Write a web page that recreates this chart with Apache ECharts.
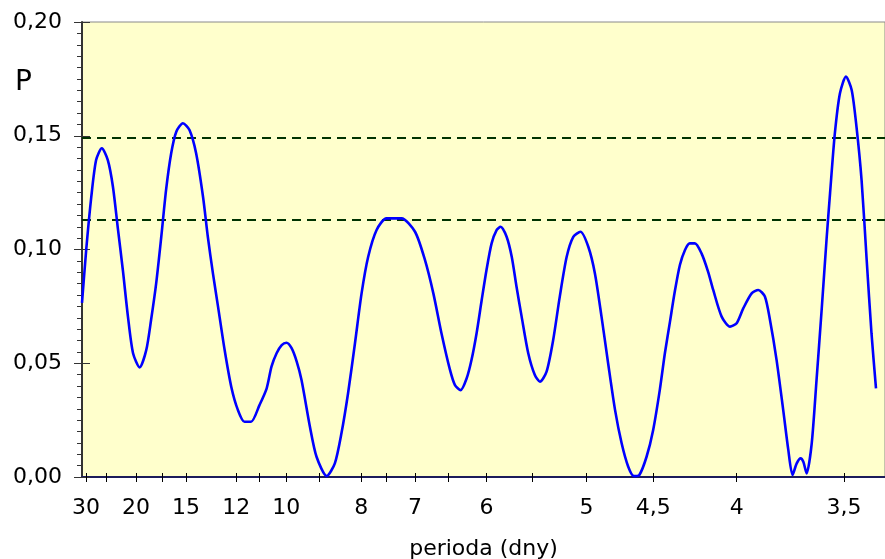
<!DOCTYPE html>
<html>
<head>
<meta charset="utf-8">
<script src="https://cdn.jsdelivr.net/npm/echarts@6.0.0/dist/echarts.min.js"></script>
<style>
  html, body { margin: 0; padding: 0; background: #fff; }
  #main { width: 885px; height: 559px; }
</style>
</head>
<body>
<div id="main"></div>
<script>
// periody pro značky a popisky osy x (osa je lineární ve frekvenci 1/perioda)
var tickPeriods = [30, 25, 20, 17, 15, 12, 11, 10, 9, 8, 7.5, 7, 6.5, 6, 5.5, 5, 4.5, 4, 3.5];
var labelPeriods = [30, 20, 15, 12, 10, 8, 7, 6, 5, 4.5, 4, 3.5];

// frekvence (1/den) a výkon periodogramu P
var freq = [
  0.0320, 0.0334, 0.0351, 0.0367, 0.0386, 0.0406, 0.0423, 0.0440, 0.0456, 0.0473,
  0.0490, 0.0512, 0.0534, 0.0550, 0.0567, 0.0584, 0.0600, 0.0617, 0.0634, 0.0656,
  0.0678, 0.0700, 0.0723, 0.0739, 0.0756, 0.0773, 0.0795, 0.0817, 0.0839, 0.0861,
  0.0883, 0.0911,
  0.0935, 0.0951, 0.0968, 0.0985, 0.1001, 0.1018, 0.1035, 0.1051,
  0.1079, 0.1101, 0.1135, 0.1162, 0.1184, 0.1206, 0.1229, 0.1251, 0.1273, 0.1301,
  0.1334, 0.1384, 0.1429, 0.1462, 0.1490, 0.1517,
  0.1545, 0.1562, 0.1581, 0.1601, 0.1617, 0.1634, 0.1651, 0.1667, 0.1684, 0.1701,
  0.1714, 0.1734, 0.1751, 0.1767,
  0.1784, 0.1806, 0.1828, 0.1845, 0.1867, 0.1889, 0.1911, 0.1934, 0.1956, 0.1980,
  0.2006, 0.2028, 0.2050, 0.2072, 0.2095, 0.2117, 0.2139, 0.2158, 0.2176, 0.2200,
  0.2222, 0.2244,
  0.2261, 0.2278, 0.2294, 0.2311, 0.2328, 0.2344, 0.2361, 0.2383, 0.2405,
  0.2422, 0.2450, 0.2478, 0.2500, 0.2522, 0.2550, 0.2572, 0.2594, 0.2611, 0.2633,
  0.2655, 0.2672, 0.2686, 0.2700, 0.2713, 0.2722, 0.2733, 0.2750, 0.2766, 0.2783,
  0.2800, 0.2811, 0.2827, 0.2844, 0.2864, 0.2883, 0.2899, 0.2916, 0.2933, 0.2949,
  0.2964
];
var power = [
  0.0765, 0.0998, 0.1232, 0.1393, 0.1445, 0.1393, 0.1276, 0.1086, 0.0910, 0.0705,
  0.0544, 0.0482, 0.0558, 0.0690, 0.0851, 0.1056, 0.1262, 0.1423, 0.1518, 0.1555,
  0.1525, 0.1423, 0.1232, 0.1056, 0.0895, 0.0749, 0.0558, 0.0397, 0.0295, 0.0243,
  0.0243, 0.0316,
  0.0390, 0.0485, 0.0544, 0.0580, 0.0590, 0.0566, 0.0507, 0.0426,
  0.0221, 0.0089, 0.0004, 0.0060, 0.0192, 0.0368, 0.0588, 0.0807, 0.0968, 0.1086,
  0.1137, 0.1137, 0.1078, 0.0954, 0.0807, 0.0632,
  0.0473, 0.0404, 0.0382, 0.0434, 0.0514, 0.0632, 0.0778, 0.0910, 0.1027, 0.1086,
  0.1100, 0.1056, 0.0968, 0.0836,
  0.0705, 0.0544, 0.0448, 0.0419, 0.0463, 0.0602, 0.0793, 0.0968, 0.1056, 0.1078,
  0.1012, 0.0895, 0.0705, 0.0500, 0.0295, 0.0148, 0.0045, 0.0004, 0.0009, 0.0089,
  0.0207, 0.0382,
  0.0544, 0.0683, 0.0815, 0.0932, 0.0998, 0.1027, 0.1027, 0.0983, 0.0902,
  0.0822, 0.0705, 0.0661, 0.0676, 0.0741, 0.0807, 0.0822, 0.0793, 0.0690, 0.0514,
  0.0295, 0.0119, 0.0009, 0.0060, 0.0082, 0.0067, 0.0016, 0.0148, 0.0426, 0.0734,
  0.1056, 0.1247, 0.1510, 0.1687, 0.1760, 0.1701, 0.1540, 0.1305, 0.0954, 0.0632,
  0.0390
];

// hladiny významnosti (čárkované čáry)
var levels = [0.149, 0.113];

var FONT = '"DejaVu Sans", Arial, sans-serif';
var fMin = 0.0320, fMax = 0.2994;

function inv(p) { return 1 / p; }
function comma(s) { return String(s).replace('.', ','); }

var chart = echarts.init(document.getElementById('main'), null, { renderer: 'canvas' });

// čárkované hladiny jako samostatné řady (přes celou šířku osy)
var levelSeries = levels.map(function (l) {
  return {
    type: 'line',
    data: [[fMin, l], [fMax, l]],
    showSymbol: false,
    silent: true,
    z: 1,
    lineStyle: { color: '#003300', width: 2, type: [9, 6] }
  };
});

var option = {
  animation: false,
  backgroundColor: '#ffffff',
  grid: {
    left: 82, right: 0, top: 22, bottom: 82,
    outerBoundsMode: 'none',
    show: true, backgroundColor: '#FFFFCC', borderColor: '#8a8a8a', borderWidth: 1
  },
  graphic: [
    { type: 'text', left: 15, top: 69, style: { text: 'P', font: '28px ' + FONT, fill: '#000' } }
  ],
  xAxis: [
    {
      type: 'value', min: fMin, max: fMax,
      name: 'perioda (dny)', nameLocation: 'middle', nameGap: 61,
      nameTextStyle: { fontFamily: FONT, fontSize: 22, color: '#000' },
      axisLine: { show: true, lineStyle: { color: '#1c1c5a', width: 2 } },
      axisTick: { show: true, length: 5, customValues: tickPeriods.map(inv), lineStyle: { color: '#000' } },
      axisLabel: {
        show: true, margin: 20, fontFamily: FONT, fontSize: 22, color: '#000',
        customValues: labelPeriods.map(inv),
        formatter: function (v) { return comma(Math.round(10 / v) / 10); }
      },
      splitLine: { show: false }
    },
    {
      type: 'value', min: fMin, max: fMax, position: 'bottom',
      axisLine: { show: false },
      axisTick: { show: true, inside: true, length: 4, customValues: tickPeriods.map(inv), lineStyle: { color: '#000' } },
      axisLabel: { show: false },
      splitLine: { show: false }
    }
  ],
  yAxis: [
    {
      type: 'value', min: 0, max: 0.2, interval: 0.05,
      axisLine: { show: true, lineStyle: { color: '#333', width: 2 } },
      axisTick: { show: true, length: 8, lineStyle: { color: '#333' } },
      minorTick: { show: true, splitNumber: 10, length: 5, lineStyle: { color: '#333' } },
      axisLabel: {
        margin: 20, fontFamily: FONT, fontSize: 22, color: '#000',
        formatter: function (v) { return comma(v.toFixed(2)); }
      },
      splitLine: { show: false }
    },
    {
      type: 'value', min: 0, max: 0.2, interval: 0.05, position: 'left',
      axisLine: { show: false },
      axisTick: { show: true, inside: true, length: 8, lineStyle: { color: '#333' } },
      axisLabel: { show: false },
      splitLine: { show: false }
    }
  ],
  series: levelSeries.concat([
    {
      type: 'line',
      xAxisIndex: 0, yAxisIndex: 0,
      data: freq.map(function (f, i) { return [f, power[i]]; }),
      showSymbol: false,
      smooth: 0.25,
      z: 3,
      lineStyle: { color: '#0000FF', width: 2.6 }
    }
  ])
};

chart.setOption(option);
</script>
</body>
</html>
